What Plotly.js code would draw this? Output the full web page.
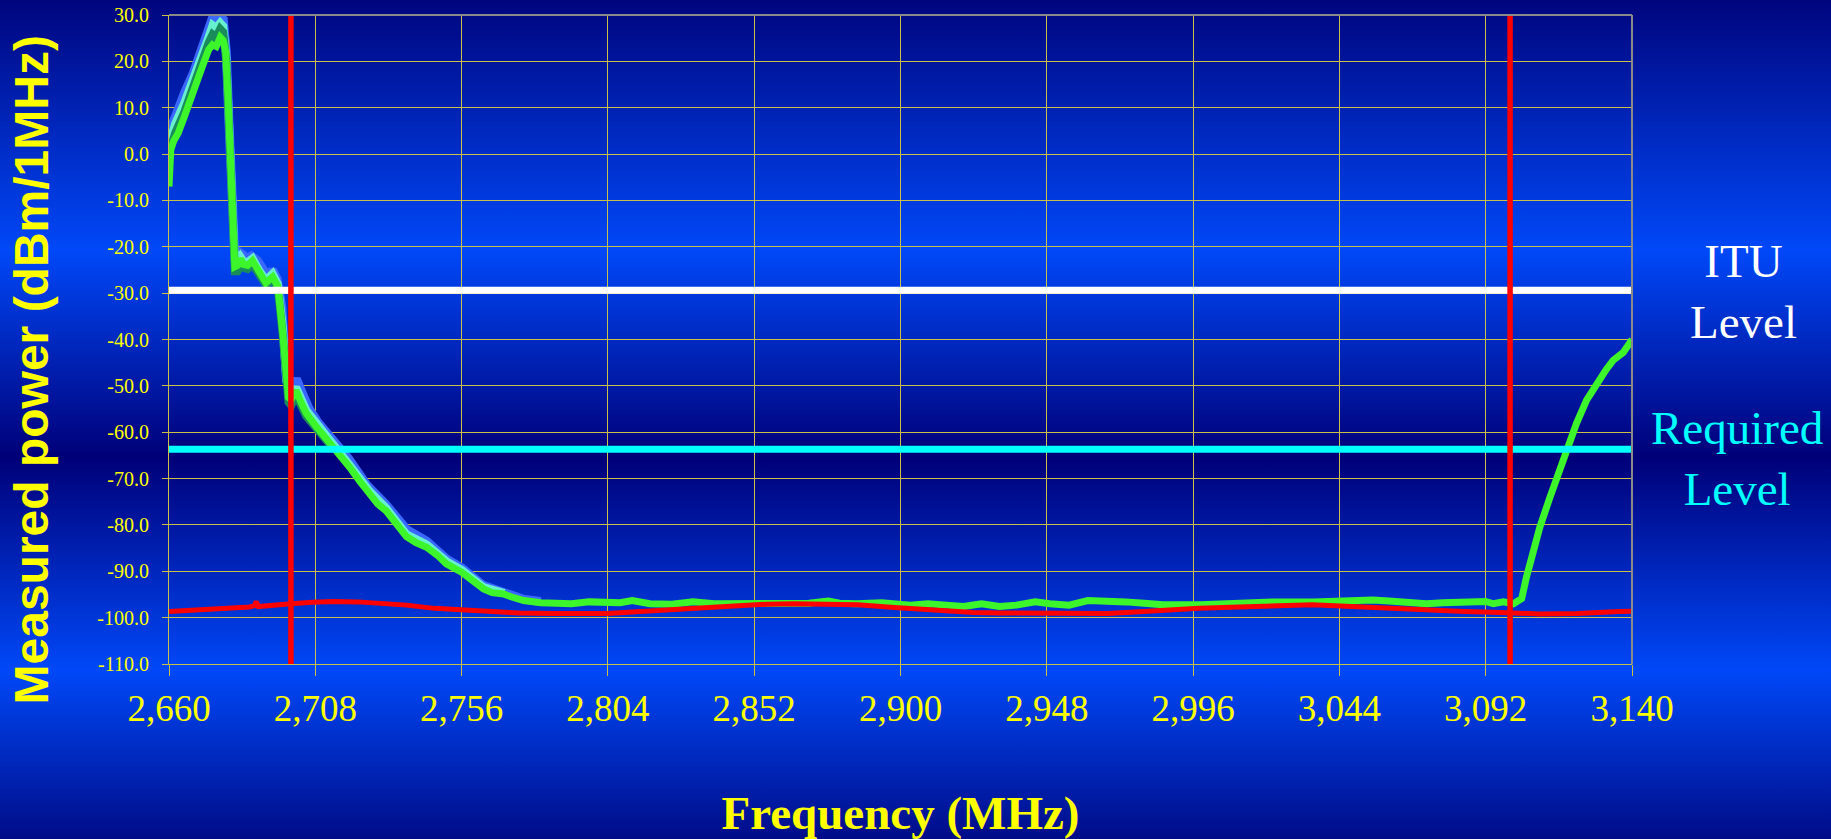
<!DOCTYPE html>
<html>
<head>
<meta charset="utf-8">
<script src="https://cdn.plot.ly/plotly-3.0.1.min.js"></script>
<style>
  html, body { margin: 0; padding: 0; width: 1831px; height: 839px; overflow: hidden; }
  body {
    background: linear-gradient(to bottom,
      #00057e 0%, #0048f8 29.8%, #000078 54.5%, #0048f8 79.9%, #000c88 100%);
  }
  #chart { width: 1831px; height: 839px; }
</style>
</head>
<body>
<div id="chart"></div>
<script>
// ---------------- DATA ----------------
const xTicks = [2660, 2708, 2756, 2804, 2852, 2900, 2948, 2996, 3044, 3092, 3140];
const xTickLabels = ["2,660", "2,708", "2,756", "2,804", "2,852", "2,900", "2,948", "2,996", "3,044", "3,092", "3,140"];
const yTicks = [-110, -100, -90, -80, -70, -60, -50, -40, -30, -20, -10, 0, 10, 20, 30];
const yTickLabels = ["-110.0", "-100.0", "-90.0", "-80.0", "-70.0", "-60.0", "-50.0", "-40.0", "-30.0", "-20.0", "-10.0", "0.0", "10.0", "20.0", "30.0"];

const ituLevel = -29.4;        // dBm/1MHz
const requiredLevel = -63.7;   // dBm/1MHz
const bandEdges = [2700, 3100]; // MHz

// main measured trace (green)
const greenFreq = [2660, 2660.6, 2661.5, 2663, 2665, 2668, 2671, 2673, 2674.3, 2675.5, 2676.8, 2677.8, 2678.6, 2679.3, 2680, 2680.5, 2681.1, 2681.6, 2682.5, 2683.5, 2684.5, 2685.8, 2687.4, 2689.5, 2691.8, 2694, 2695.7, 2697.3, 2698.5, 2699.2, 2700.1, 2701.7, 2703.3, 2705, 2708.3, 2712.7, 2716, 2719.2, 2722.5, 2725.8, 2728.5, 2731.3, 2734.5, 2737.9, 2741, 2744.5, 2748, 2751, 2756, 2760, 2763.2, 2766, 2769.8, 2772.2, 2776.4, 2782, 2787.4, 2792, 2797.9, 2803.8, 2808, 2812, 2817.8, 2825, 2831.9, 2838.9, 2850.5, 2862.2, 2870, 2876.3, 2880, 2885.6, 2893.8, 2903.2, 2909, 2915, 2920.7, 2926.6, 2932.5, 2938, 2944.2, 2949, 2955.3, 2961.5, 2967, 2973.8, 2980, 2986.1, 2998.5, 3004, 3010.8, 3023.1, 3035.5, 3041, 3047.8, 3055, 3060.2, 3066, 3072.5, 3078, 3084.8, 3090.1, 3092, 3094.5, 3097.8, 3101.1, 3103.8, 3105.4, 3107.6, 3109.8, 3113.1, 3115.8, 3118.5, 3121.8, 3125.1, 3129.4, 3131.5, 3133.8, 3135.5, 3137.1, 3138.8, 3140];
const greenPower = [-7, 1, 2.8, 4.5, 8, 14, 19, 22.5, 23.6, 23.2, 25.2, 24.5, 22, 13, 0, -10, -19, -24.3, -24, -22.6, -23.8, -24, -23, -25.5, -27.8, -26.5, -28.5, -38.5, -50, -52.5, -53, -51, -53.5, -55.9, -58.8, -62.2, -65, -67.5, -70.5, -73.3, -75.5, -77, -79.8, -82.5, -83.8, -84.8, -86.5, -88.4, -90.2, -92.3, -93.8, -94.6, -94.9, -95.5, -96.3, -96.8, -97.0, -97.0, -96.6, -96.8, -96.8, -96.3, -97.0, -97.1, -96.6, -97.0, -97.0, -97.1, -96.9, -96.4, -96.9, -97.0, -96.8, -97.3, -97.0, -97.3, -97.6, -97.0, -97.6, -97.3, -96.6, -97.0, -97.3, -96.3, -96.6, -96.6, -96.9, -97.2, -97.2, -97.0, -96.8, -96.6, -96.6, -96.5, -96.1, -96.2, -96.4, -96.8, -97.0, -96.8, -96.6, -96.4, -96.5, -97.0, -96.6, -97.0, -95.9, -91.2, -85.5, -80.4, -74.0, -68.9, -63.2, -58.1, -53.1, -48.4, -46.5, -44.5, -43.6, -42.8, -41.2, -40];

// other measured traces visible behind the green one
const blueFreq = [2660, 2662, 2665, 2668, 2671, 2673, 2674.3, 2675.5, 2676.8, 2677.8, 2678.8, 2679.6, 2680.3, 2681.0, 2681.6, 2683.3, 2684.5, 2685.6, 2687, 2689, 2691, 2692.5, 2694, 2695.5, 2697, 2698.5, 2700, 2701.8, 2704, 2706, 2709, 2713, 2719, 2725, 2731, 2738, 2744.5, 2751, 2756, 2763, 2770, 2776, 2782];
const bluePower = [4.5, 8.5, 13, 17.5, 23, 27, 29.4, 28.6, 29.5, 29, 22, 8, -5, -17, -22.5, -21.3, -22, -22.5, -22, -23, -25, -26.5, -25, -27, -33, -48, -51, -48.5, -52, -55, -58, -61, -65.8, -71.5, -75.5, -81, -83.5, -87.3, -89.3, -93, -94.5, -96, -96.5];

const aquaFreq = [2660, 2662, 2665, 2668, 2671, 2673, 2674.3, 2675.5, 2676.8, 2677.8, 2678.8, 2679.6, 2680.3, 2681.0, 2681.6, 2683.3, 2684.5, 2685.8, 2687.4, 2689.5, 2691.8, 2694, 2695.7, 2697.3, 2698.5, 2700, 2701.7, 2705, 2708.3, 2712.7, 2719.2, 2725.8, 2731.3, 2737.9, 2744.5, 2751, 2756, 2763.2, 2770];
const aquaPower = [2, 6.5, 11, 16, 21.5, 25.3, 27.8, 27.2, 28.3, 27.6, 21, 6, -6, -18, -23.3, -22, -23.2, -23.3, -22.5, -25, -27.2, -25.8, -28, -37, -49, -52.3, -50.3, -55.2, -58.2, -61.6, -67, -72.7, -76.4, -82, -84.2, -87.8, -89.7, -93.4, -94.7];

const tealFreq = [2660, 2662, 2665, 2668, 2671, 2673, 2674.3, 2675.5, 2676.8, 2677.8, 2678.8, 2679.6, 2680.3, 2681.0, 2681.6, 2682.5, 2683.5, 2684.5, 2685.8, 2687.4, 2689.5, 2691.8, 2694, 2695.7, 2697.3, 2698.5, 2699.2, 2700.1, 2701.7, 2705, 2708.3, 2712.7];
const tealPower = [0, 4.5, 9, 15, 20.5, 24, 25.8, 25.2, 27, 26.3, 20, 5, -7, -19, -25.3, -25.3, -24.3, -24.5, -24.8, -23.8, -26, -28.2, -27, -29, -39, -50.5, -53.5, -54.2, -52, -56.5, -59.3, -62.6];

// noise floor (red)
const floorFreq = [2660, 2670, 2680, 2686.4, 2688, 2688.6, 2689.3, 2695, 2700, 2707, 2714, 2722, 2730, 2738, 2747, 2755, 2763, 2775, 2786, 2804, 2812, 2821, 2830, 2839, 2848, 2856, 2865, 2874, 2886, 2898, 2906, 2915, 2924, 2932, 2952, 2968, 2977, 2986, 2998, 3011, 3023, 3035, 3048, 3060, 3073, 3085, 3097, 3110, 3122, 3130, 3136, 3140];
const floorPower = [-98.7, -98.4, -98.0, -97.7, -97.4, -96.5, -97.6, -97.4, -97.0, -96.7, -96.5, -96.6, -96.9, -97.3, -98.0, -98.3, -98.7, -99.0, -99.1, -99.1, -98.8, -98.4, -98.0, -97.6, -97.3, -97.1, -97.0, -97.0, -97.2, -97.8, -98.2, -98.6, -98.9, -99.0, -99.1, -99.1, -98.8, -98.4, -98.0, -97.7, -97.4, -97.2, -97.6, -98.0, -98.4, -98.7, -98.9, -99.2, -99.1, -99.0, -98.7, -98.6];

// ---------------- CHART ----------------
const xMin = xTicks[0], xMax = xTicks[xTicks.length - 1];
const yMin = yTicks[0], yMax = yTicks[yTicks.length - 1];

const traces = [
  {x: blueFreq, y: bluePower, mode: 'lines', line: {color: '#3a68ff', width: 9}, hoverinfo: 'skip'},
  {x: aquaFreq, y: aquaPower, mode: 'lines', line: {color: '#66f0d0', width: 8}, hoverinfo: 'skip'},
  {x: tealFreq, y: tealPower, mode: 'lines', line: {color: '#1a8c5c', width: 8}, hoverinfo: 'skip'},
  {x: greenFreq, y: greenPower, mode: 'lines', line: {color: '#3cf52a', width: 7}, hoverinfo: 'skip'},
  {x: floorFreq, y: floorPower, mode: 'lines', line: {color: '#ff0000', width: 5}, hoverinfo: 'skip'},
  {x: [xMin, xMax], y: [ituLevel, ituLevel], mode: 'lines', line: {color: '#ffffff', width: 7}, hoverinfo: 'skip'},
  {x: [xMin, xMax], y: [requiredLevel, requiredLevel], mode: 'lines', line: {color: '#00ffff', width: 7}, hoverinfo: 'skip'},
  {x: [bandEdges[0], bandEdges[0]], y: [yMin, yMax], mode: 'lines', line: {color: '#ff0000', width: 5.5}, hoverinfo: 'skip'},
  {x: [bandEdges[1], bandEdges[1]], y: [yMin, yMax], mode: 'lines', line: {color: '#ff0000', width: 5.5}, hoverinfo: 'skip'}
];

const serif = 'Liberation Serif, Times New Roman, serif';
const sans = 'Liberation Sans, Arial, sans-serif';
const gridCol = '#c8c048';

const layout = {
  width: 1831, height: 839,
  margin: {l: 169, r: 199, t: 15, b: 175, pad: 0},
  paper_bgcolor: 'rgba(0,0,0,0)',
  plot_bgcolor: 'rgba(0,0,0,0)',
  showlegend: false,
  xaxis: {
    range: [xMin, xMax],
    tickvals: xTicks, ticktext: xTickLabels,
    tickfont: {family: serif, size: 37, color: '#ffff00'},
    ticks: 'outside', ticklen: 11, tickwidth: 1, tickcolor: gridCol,
    ticklabelstandoff: 1,
    showgrid: true, gridcolor: gridCol, gridwidth: 1,
    showline: true, linecolor: gridCol, linewidth: 1,
    zeroline: false, fixedrange: true,
    title: {text: '<b>Frequency (MHz)</b>', font: {family: serif, size: 47, color: '#ffff00'}, standoff: 86}
  },
  yaxis: {
    range: [yMin, yMax],
    tickvals: yTicks, ticktext: yTickLabels,
    tickfont: {family: serif, size: 20, color: '#ffff00'},
    ticks: 'outside', ticklen: 6, tickwidth: 1, tickcolor: gridCol,
    ticklabelstandoff: 9,
    showgrid: true, gridcolor: gridCol, gridwidth: 1,
    showline: true, linecolor: gridCol, linewidth: 1,
    zeroline: false, fixedrange: true
  },
  shapes: [
    {type: 'line', xref: 'paper', yref: 'paper', x0: 0, x1: 1, y0: 1, y1: 1, line: {color: '#8a8a8a', width: 2}},
    {type: 'line', xref: 'paper', yref: 'paper', x0: 1, x1: 1, y0: 0, y1: 1, line: {color: '#8a8a8a', width: 2}}
  ],
  annotations: [
    {text: '<b>Measured power (dBm/1MHz)</b>', xref: 'paper', yref: 'paper', x: -0.094, y: 0.453,
     xanchor: 'center', yanchor: 'middle', textangle: -90, showarrow: false,
     font: {family: sans, size: 48, color: '#ffff00'}},
    {text: 'ITU<br>Level', xref: 'paper', yref: 'paper', x: 1.0759, y: 0.5732,
     xanchor: 'center', yanchor: 'middle', showarrow: false,
     font: {family: serif, size: 47, color: '#ffffff'}},
    {text: 'Required<br>Level', xref: 'paper', yref: 'paper', x: 1.0718, y: 0.3166,
     xanchor: 'center', yanchor: 'middle', showarrow: false,
     font: {family: serif, size: 47, color: '#00ffff'}}
  ]
};

Plotly.newPlot('chart', traces, layout, {displayModeBar: false, staticPlot: true});
</script>
</body>
</html>
